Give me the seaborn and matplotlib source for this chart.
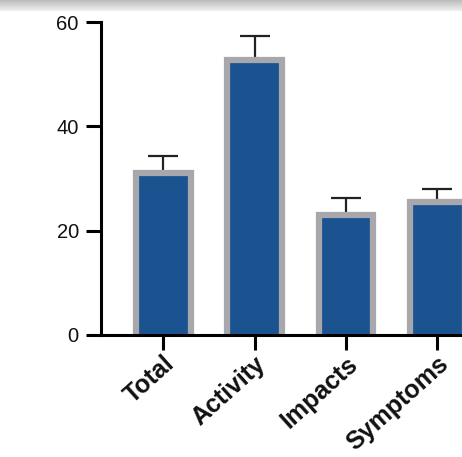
import numpy as np
import matplotlib
matplotlib.use("Agg")
import matplotlib.pyplot as plt
import seaborn as sns

categories = ["Total", "Activity", "Impacts", "Symptoms"]
means = [31.0, 52.7, 23.0, 25.5]
errors_up = [3.3, 4.6, 3.2, 2.4]
y_ticks = [0, 20, 40, 60]

BLUE = "#1b5391"
GRAY = "#a8a8ac"

sns.set_style("ticks")
plt.rcParams["font.family"] = ["Liberation Sans", "DejaVu Sans"]

fig = plt.figure(figsize=(4.62, 4.57), dpi=100)
ax = fig.add_axes([101 / 462, (457 - 335) / 457, 1 - 101 / 462, 313 / 457])

sns.barplot(x=categories, y=means, color=BLUE, saturation=1, width=0.6,
            edgecolor=GRAY, linewidth=4.5, ax=ax, zorder=3)
# push the bar bottoms below the axis so no grey edge shows along the baseline
for p in ax.patches:
    p.set_y(-2)
    p.set_height(p.get_height() + 2)

ax.errorbar(np.arange(len(categories)), means,
            yerr=[np.zeros(len(means)), errors_up],
            fmt="none", ecolor="#222222", elinewidth=1.6,
            capsize=11, capthick=1.6, zorder=2)

ax.set_ylim(0, 60)
ax.set_xlim(-0.68, 3.27)
ax.set_yticks(y_ticks)
ax.set_xlabel("")
ax.set_ylabel("")

sns.despine(ax=ax)
for s in ["left", "bottom"]:
    ax.spines[s].set_linewidth(2.2)
    ax.spines[s].set_color("black")
    ax.spines[s].set_zorder(4)
ax.tick_params(axis="both", width=2.2, length=11, color="black")
ax.tick_params(axis="y", labelsize=14.5, pad=5, labelcolor="#111111")
ax.tick_params(axis="x", labelsize=18, pad=1, labelcolor="#111111")
for lab in ax.get_xticklabels():
    lab.set_rotation(42)
    lab.set_ha("right")
    lab.set_rotation_mode("anchor")
    lab.set_fontweight("bold")

# grey gradient strip at the very top, as in the screenshot
strip = fig.add_axes([0, 1 - 11 / 457, 1, 11 / 457])
grad = np.linspace(0.74, 0.93, 11).reshape(-1, 1)
strip.imshow(grad, cmap="gray", vmin=0, vmax=1, aspect="auto")
strip.set_axis_off()

fig.savefig("out.png", dpi=100)
